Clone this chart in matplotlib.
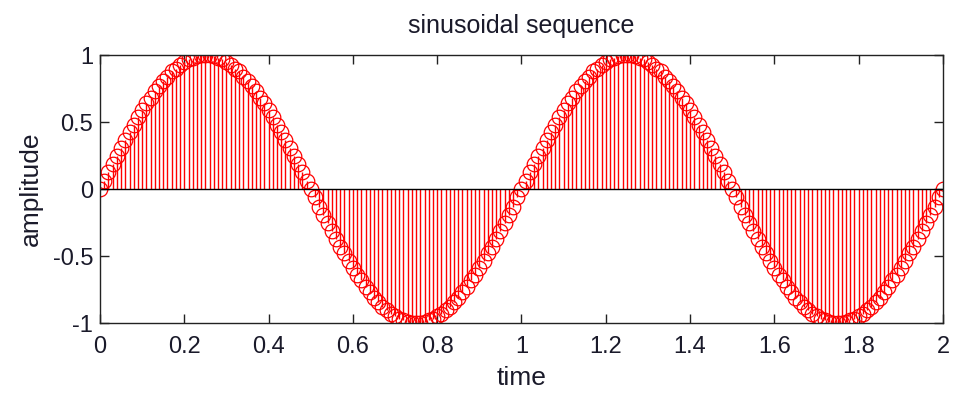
import numpy as np
import matplotlib
matplotlib.use("Agg")
import matplotlib.pyplot as plt

plt.rcParams['font.family'] = ['Liberation Sans', 'DejaVu Sans']

# time samples: 0 to 2 s in steps of 0.01
time = np.round(np.arange(201) * 0.01, 2)

# amplitude values (one period, then repeated)
period_vals = [
    0.00, 0.06, 0.13, 0.19, 0.25, 0.31, 0.37, 0.43, 0.48, 0.54, 0.59, 0.64, 0.68,
    0.73, 0.77, 0.81, 0.84, 0.88, 0.90, 0.93, 0.95, 0.97, 0.98, 0.99, 1.00, 1.00,
    1.00, 0.99, 0.98, 0.97, 0.95, 0.93, 0.90, 0.88, 0.84, 0.81, 0.77, 0.73, 0.68,
    0.64, 0.59, 0.54, 0.48, 0.43, 0.37, 0.31, 0.25, 0.19, 0.13, 0.06, 0.00,
    -0.06, -0.13, -0.19, -0.25, -0.31, -0.37, -0.43, -0.48, -0.54, -0.59, -0.64,
    -0.68, -0.73, -0.77, -0.81, -0.84, -0.88, -0.90, -0.93, -0.95, -0.97, -0.98,
    -0.99, -1.00, -1.00,
    -1.00, -0.99, -0.98, -0.97, -0.95, -0.93, -0.90, -0.88, -0.84, -0.81, -0.77,
    -0.73, -0.68, -0.64, -0.59, -0.54, -0.48, -0.43, -0.37, -0.31, -0.25, -0.19,
    -0.13, -0.06,
]
amplitude = period_vals + period_vals + [0.00]

xticks = [0, 0.2, 0.4, 0.6, 0.8, 1, 1.2, 1.4, 1.6, 1.8, 2]
xticklabels = ['0', '0.2', '0.4', '0.6', '0.8', '1', '1.2', '1.4', '1.6', '1.8', '2']
yticks = [-1, -0.5, 0, 0.5, 1]
yticklabels = ['-1', '-0.5', '0', '0.5', '1']

fig = plt.figure(figsize=(9.56, 3.94), dpi=100)
ax = fig.add_axes([0.1046, 0.180, 0.8818, 0.680])

markerline, stemlines, baseline = ax.stem(time, amplitude)
plt.setp(stemlines, color='red', linewidth=1.0)
plt.setp(markerline, marker='o', markersize=10.5, markerfacecolor='none',
         markeredgecolor='red', markeredgewidth=0.9, linestyle='none')
plt.setp(baseline, color='black', linewidth=1.0)
baseline.set_xdata([0, 2])

ax.set_xlim(0, 2)
ax.set_ylim(-1, 1)
ax.set_xticks(xticks)
ax.set_xticklabels(xticklabels)
ax.set_yticks(yticks)
ax.set_yticklabels(yticklabels)
ax.tick_params(direction='in', top=True, right=True, length=6.5, width=1,
               labelsize=17, colors='#222222', labelcolor='#1a1a2a')
ax.tick_params(axis='x', pad=9)
ax.tick_params(axis='y', pad=5)
for s in ax.spines.values():
    s.set_linewidth(1.0)
    s.set_color('#222222')

ax.set_title('sinusoidal sequence', fontsize=18, pad=16, color='#1a1a2a')
ax.set_xlabel('time', fontsize=19, labelpad=6, color='#1a1a2a')
ax.set_ylabel('amplitude', fontsize=19, labelpad=7, color='#1a1a2a')

fig.savefig('out.png', dpi=100)
